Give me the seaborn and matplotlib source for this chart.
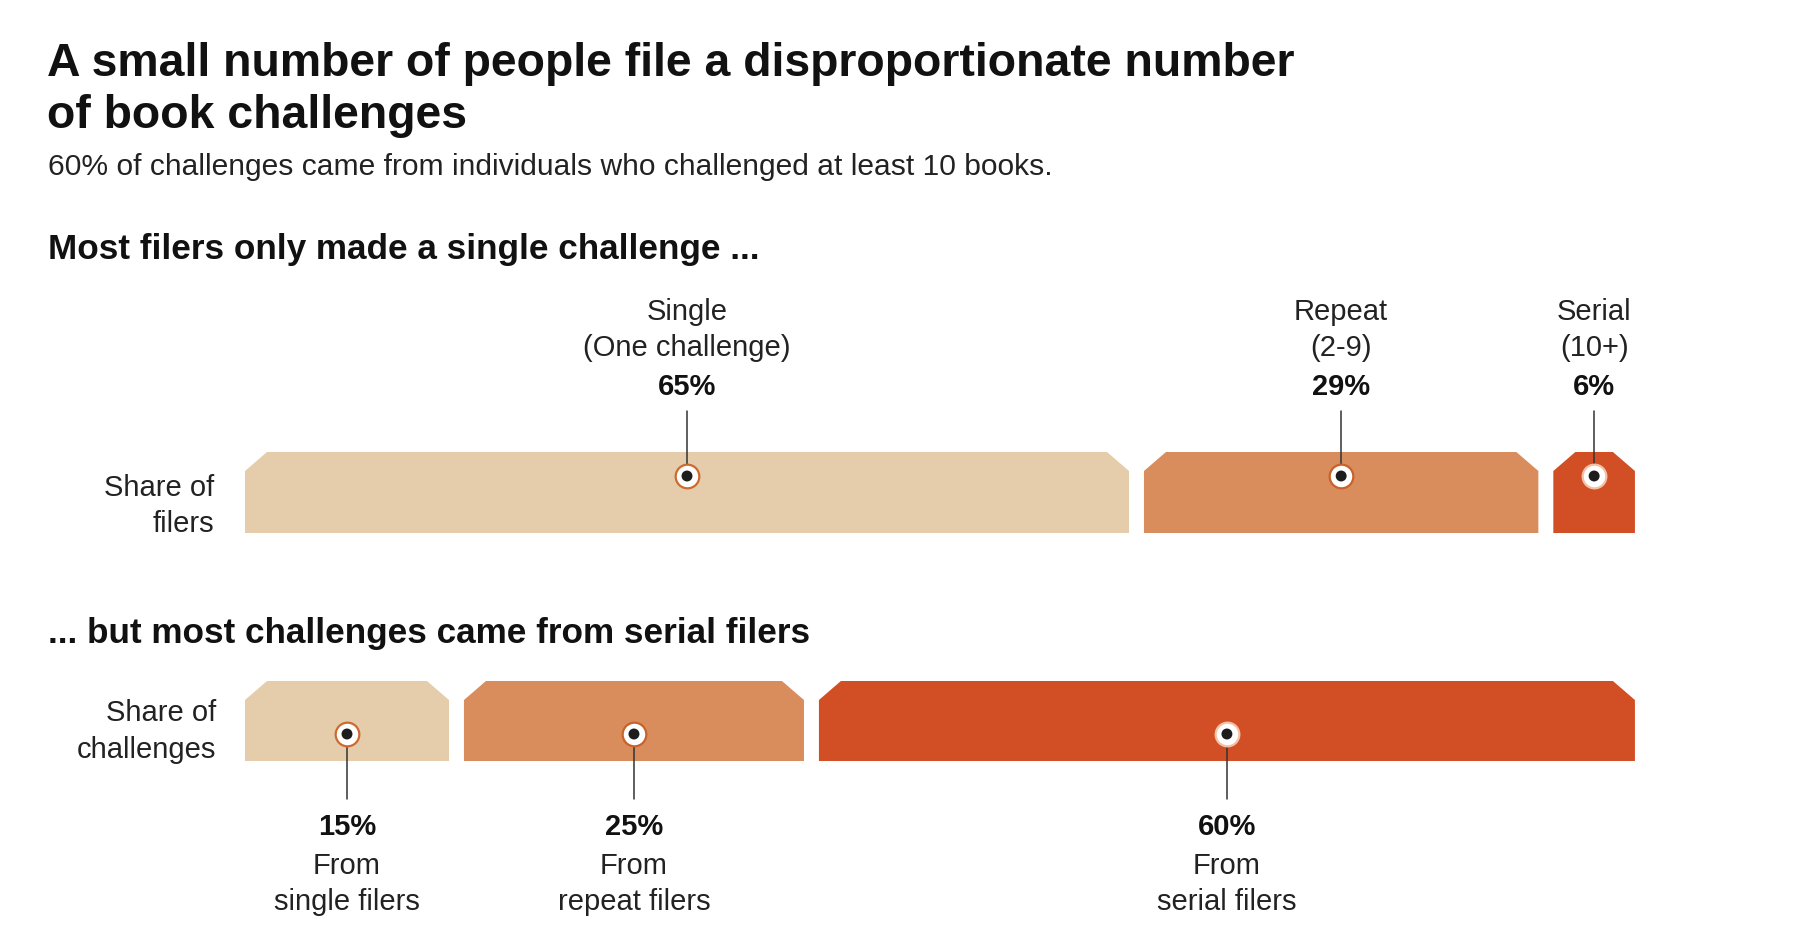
import matplotlib
matplotlib.use("Agg")
import matplotlib.pyplot as plt
from matplotlib.patches import Polygon
import seaborn as sns
import numpy as np
import pandas as pd

sns.set_theme(style="white")
plt.rcParams["font.family"] = ["Liberation Sans", "DejaVu Sans"]

# data
groups = ["Single", "Repeat", "Serial"]
group_notes = ["(One challenge)", "(2-9)", "(10+)"]
filer_share = [65, 29, 6]
challenge_share = [15, 25, 60]
challenge_notes = ["single filers", "repeat filers", "serial filers"]
colors = ["#e5cdab", "#d98d5c", "#d24f25"]
ring_colors = ["#cc6a32", "#c8622a", "#f3c2a6"]

W, H = 1806, 938
PX_PER_UNIT = 13.6
X0 = 245
GAP = 1.1
CHAMFER_X = 22 / PX_PER_UNIT
CHAMFER_Y = 19
TEXT = "#111111"
LABEL_SIZE = 21


def tag(ax, left, right, top, bottom, color):
    pts = [(left, bottom), (left, top + CHAMFER_Y), (left + CHAMFER_X, top),
           (right - CHAMFER_X, top), (right, top + CHAMFER_Y), (right, bottom)]
    ax.add_patch(Polygon(pts, closed=True, facecolor=color, edgecolor="none", zorder=1))


def draw_row(ax, values, top, bottom, dot_y):
    values = np.asarray(values, dtype=float)
    lefts = np.concatenate([[0], np.cumsum(values)[:-1]]) + np.arange(len(values)) * GAP
    rights = lefts + values
    for l, r, c in zip(lefts, rights, colors):
        tag(ax, l, r, top, bottom, c)
    centers = (lefts + rights) / 2
    df = pd.DataFrame({"x": centers, "y": [dot_y] * len(values), "g": groups})
    for (_, row), rc in zip(df.iterrows(), ring_colors):
        sns.scatterplot(x=[row.x], y=[row.y], ax=ax, s=290, color="white",
                        edgecolor=rc, linewidth=1.6, zorder=4, legend=False)
    sns.scatterplot(data=df, x="x", y="y", ax=ax, s=62, color="#1d1d1d",
                    edgecolor="none", zorder=5, legend=False)
    return centers


fig = plt.figure(figsize=(W / 100, H / 100), dpi=100)
ax = fig.add_axes([0, 0, 1, 1])
ax.set_xlim(-X0 / PX_PER_UNIT, (W - X0) / PX_PER_UNIT)
ax.set_ylim(H, 0)
ax.axis("off")

# titles
fig.text(47 / W, 1 - 64 / H, "A small number of people file a disproportionate number",
         fontsize=33.4, fontweight="bold", color=TEXT, va="center")
fig.text(47 / W, 1 - 116 / H, "of book challenges",
         fontsize=33.4, fontweight="bold", color=TEXT, va="center")
fig.text(48 / W, 1 - 167 / H,
         "60% of challenges came from individuals who challenged at least 10 books.",
         fontsize=21.6, color="#222222", va="center")
fig.text(48 / W, 1 - 250 / H, "Most filers only made a single challenge ...",
         fontsize=25.3, fontweight="bold", color=TEXT, va="center")
fig.text(48 / W, 1 - 633 / H, "... but most challenges came from serial filers",
         fontsize=25.3, fontweight="bold", color=TEXT, va="center")

# row 1: share of filers
c1 = draw_row(ax, filer_share, 452, 533, 476)
for x, name, note, v in zip(c1, groups, group_notes, filer_share):
    ax.plot([x, x], [476, 411], color="#333333", lw=1.1, zorder=3)
    ax.text(x, 312, name, ha="center", va="center", fontsize=LABEL_SIZE, color="#222222")
    ax.text(x, 348, note, ha="center", va="center", fontsize=LABEL_SIZE, color="#222222")
    ax.text(x, 387, f"{v}%", ha="center", va="center", fontsize=LABEL_SIZE,
            fontweight="bold", color=TEXT)
ax.text(-31 / PX_PER_UNIT, 488, "Share of", ha="right", va="center", fontsize=LABEL_SIZE, color="#222222")
ax.text(-31 / PX_PER_UNIT, 524, "filers", ha="right", va="center", fontsize=LABEL_SIZE, color="#222222")

# row 2: share of challenges
c2 = draw_row(ax, challenge_share, 681, 761, 734)
for x, note, v in zip(c2, challenge_notes, challenge_share):
    ax.plot([x, x], [734, 799], color="#333333", lw=1.1, zorder=3)
    ax.text(x, 827, f"{v}%", ha="center", va="center", fontsize=LABEL_SIZE,
            fontweight="bold", color=TEXT)
    ax.text(x, 866, "From", ha="center", va="center", fontsize=LABEL_SIZE, color="#222222")
    ax.text(x, 902, note, ha="center", va="center", fontsize=LABEL_SIZE, color="#222222")
ax.text(-29 / PX_PER_UNIT, 713, "Share of", ha="right", va="center", fontsize=LABEL_SIZE, color="#222222")
ax.text(-29 / PX_PER_UNIT, 750, "challenges", ha="right", va="center", fontsize=LABEL_SIZE, color="#222222")

fig.savefig("out.png", dpi=100, facecolor="white")
